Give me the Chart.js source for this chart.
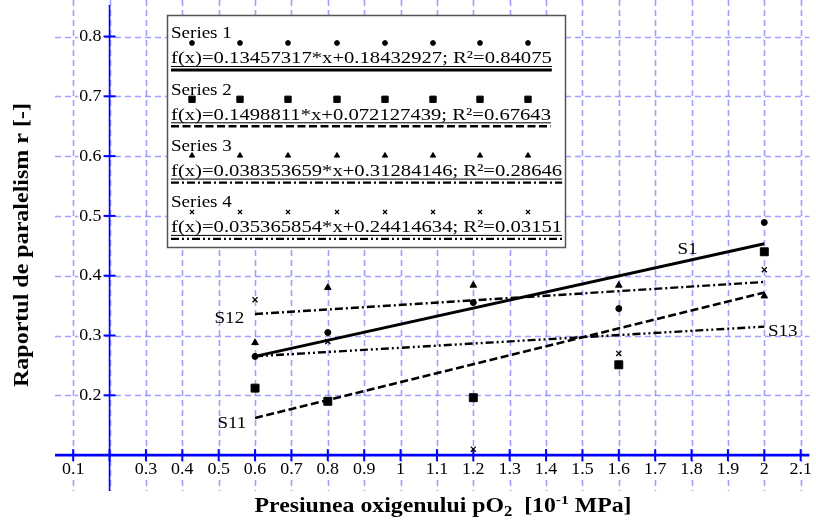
<!DOCTYPE html>
<html>
<head>
<meta charset="utf-8">
<script src="https://cdn.jsdelivr.net/npm/chart.js@4/dist/chart.umd.min.js"></script>
<style>
  html, body { margin: 0; padding: 0; background: #ffffff; }
  #wrap { width: 816px; height: 526px; }
</style>
</head>
<body>
<div id="wrap"><canvas id="c" width="816" height="526"></canvas></div>
<script>
// Measured oxygen pressures [10^-1 MPa]
const xValues = [0.6, 0.8, 1.2, 1.6, 2.0];

// Parallelism ratio r for each series
const series1 = [0.265, 0.305, 0.355, 0.345, 0.489];
const series2 = [0.212, 0.19, 0.196, 0.251, 0.44];
const series3 = [0.288, 0.38, 0.384, 0.384, 0.366];
const series4 = [0.36, 0.29, 0.11, 0.27, 0.41];

// Linear fits f(x) = a*x + b with their R²
const slopes = [0.13457317, 0.1498811, 0.038353659, 0.035365854];
const intercepts = [0.18432927, 0.072127439, 0.31284146, 0.24414634];
const rSquared = [0.84075, 0.67643, 0.28646, 0.03151];

const seriesNames = ['Series 1', 'Series 2', 'Series 3', 'Series 4'];
const fitNames = ['S1', 'S11', 'S12', 'S13'];

// Axis ticks / grid
const xGrid = [0.1, 0.2, 0.3, 0.4, 0.5, 0.6, 0.7, 0.8, 0.9, 1.0, 1.1, 1.2, 1.3, 1.4, 1.5, 1.6, 1.7, 1.8, 1.9, 2.0, 2.1];
const yGrid = [0.2, 0.3, 0.4, 0.5, 0.6, 0.7, 0.8];
const xTickLabels = ['0.1', '0.3', '0.4', '0.5', '0.6', '0.7', '0.8', '0.9', '1', '1.1', '1.2', '1.3', '1.4', '1.5', '1.6', '1.7', '1.8', '1.9', '2', '2.1'];
const xTickValues = [0.1, 0.3, 0.4, 0.5, 0.6, 0.7, 0.8, 0.9, 1.0, 1.1, 1.2, 1.3, 1.4, 1.5, 1.6, 1.7, 1.8, 1.9, 2.0, 2.1];
const yTickLabels = ['0.2', '0.3', '0.4', '0.5', '0.6', '0.7', '0.8'];
const xAxisAt = 0.1;   // y value where the horizontal axis crosses
const yAxisAt = 0.2;   // x value where the vertical axis crosses

const SERIF = '"Liberation Serif", "Times New Roman", serif';
const STRETCH = 1.12;

const markerStyles = [
  { pointStyle: 'circle', radius: 3, borderWidth: 1 },
  { pointStyle: 'rect', radius: 5.6, borderWidth: 1 },
  { pointStyle: 'triangle', radius: 3.8, borderWidth: 1 },
  { pointStyle: 'crossRot', radius: 3.6, borderWidth: 1.3 }
];
const fitStyles = [
  { borderWidth: 3, borderDash: [] },
  { borderWidth: 2.6, borderDash: [8, 3.5] },
  { borderWidth: 2.4, borderDash: [8, 3, 2, 3] },
  { borderWidth: 2.4, borderDash: [8, 3, 2, 3, 2, 3] }
];

const allSeries = [series1, series2, series3, series4];

const pointSets = allSeries.map((vals, k) => ({
  label: seriesNames[k],
  data: xValues.map((x, i) => ({ x: x, y: vals[i] })),
  showLine: false,
  pointStyle: markerStyles[k].pointStyle,
  pointRadius: markerStyles[k].radius,
  pointBorderWidth: markerStyles[k].borderWidth,
  backgroundColor: '#000',
  borderColor: '#000',
  order: 2
}));

const fitSets = slopes.map((a, k) => {
  const x0 = Math.min(...xValues), x1 = Math.max(...xValues);
  return {
    label: fitNames[k],
    data: [{ x: x0, y: a * x0 + intercepts[k] }, { x: x1, y: a * x1 + intercepts[k] }],
    showLine: true,
    pointRadius: 0,
    borderColor: '#000',
    borderWidth: fitStyles[k].borderWidth,
    borderDash: fitStyles[k].borderDash,
    borderCapStyle: 'butt',
    fill: false,
    order: 1
  };
});

function stretchedText(ctx, text, x, y, align, stretch) {
  const s = stretch || STRETCH;
  const w = ctx.measureText(text).width * s;
  let left = x;
  if (align === 'center') left = x - w / 2;
  else if (align === 'right') left = x - w;
  ctx.save();
  ctx.translate(left, y);
  ctx.scale(s, 1);
  ctx.textAlign = 'left';
  ctx.fillText(text, 0, 0);
  ctx.restore();
  return w;
}

const decorPlugin = {
  id: 'decor',
  beforeDatasetsDraw(chart) {
    const ctx = chart.ctx;
    const xs = chart.scales.x, ys = chart.scales.y;
    const area = chart.chartArea;
    const axisY = ys.getPixelForValue(xAxisAt);
    const axisX = xs.getPixelForValue(yAxisAt);

    ctx.save();
    // dashed grid
    ctx.strokeStyle = 'rgba(120,120,255,0.7)';
    ctx.lineWidth = 1.6;
    ctx.setLineDash([6, 4]);
    xGrid.forEach(v => {
      const px = Math.round(xs.getPixelForValue(v)) + 0.5;
      ctx.beginPath(); ctx.moveTo(px, 0); ctx.lineTo(px, area.bottom); ctx.stroke();
    });
    yGrid.forEach(v => {
      const py = Math.round(ys.getPixelForValue(v)) + 0.5;
      ctx.beginPath(); ctx.moveTo(area.left, py); ctx.lineTo(area.right, py); ctx.stroke();
    });
    ctx.setLineDash([]);

    // axes
    ctx.strokeStyle = '#0000ff';
    ctx.lineWidth = 2.6;
    ctx.beginPath(); ctx.moveTo(area.left, axisY); ctx.lineTo(area.right, axisY); ctx.stroke();
    ctx.lineWidth = 1.6;
    ctx.beginPath(); ctx.moveTo(axisX, 5); ctx.lineTo(axisX, area.bottom); ctx.stroke();

    // tick marks
    ctx.lineWidth = 2;
    xGrid.forEach(v => {
      const px = xs.getPixelForValue(v);
      ctx.beginPath(); ctx.moveTo(px, axisY - 6); ctx.lineTo(px, axisY + 6); ctx.stroke();
    });
    yGrid.forEach(v => {
      const py = ys.getPixelForValue(v);
      ctx.beginPath(); ctx.moveTo(axisX - 6, py); ctx.lineTo(axisX + 6, py); ctx.stroke();
    });

    // tick labels on white patches
    ctx.font = '16px ' + SERIF;
    ctx.textBaseline = 'middle';
    xTickLabels.forEach((t, i) => {
      const px = xs.getPixelForValue(xTickValues[i]);
      const w = ctx.measureText(t).width * STRETCH;
      ctx.fillStyle = '#fff';
      ctx.fillRect(px - w / 2 - 1, axisY + 7, w + 2, 15);
      ctx.fillStyle = '#000';
      stretchedText(ctx, t, px, axisY + 14.5, 'center');
    });
    yTickLabels.forEach((t, i) => {
      const py = ys.getPixelForValue(yGrid[i]);
      const w = ctx.measureText(t).width * STRETCH;
      ctx.fillStyle = '#fff';
      ctx.fillRect(axisX - 8 - w - 1, py - 7, w + 2, 14);
      ctx.fillStyle = '#000';
      stretchedText(ctx, t, axisX - 8, py + 0.5, 'right');
    });
    ctx.restore();
  },
  afterDatasetsDraw(chart) {
    const ctx = chart.ctx;
    const xs = chart.scales.x, ys = chart.scales.y;
    ctx.save();

    // fit labels
    ctx.font = '17px ' + SERIF;
    ctx.fillStyle = '#000';
    ctx.textBaseline = 'middle';
    const fitLabelPos = [
      { x: 1.789, y: 0.444, align: 'center' },
      { x: 0.576, y: 0.153, align: 'right' },
      { x: 0.57, y: 0.328, align: 'right' },
      { x: 2.01, y: 0.307, align: 'left' }
    ];
    fitNames.forEach((n, k) => {
      const p = fitLabelPos[k];
      stretchedText(ctx, n, xs.getPixelForValue(p.x), ys.getPixelForValue(p.y), p.align);
    });

    // legend box
    const bx = 167, by = 15, bw = 398, bh = 232;
    ctx.fillStyle = '#fff';
    ctx.fillRect(bx, by, bw, bh);
    ctx.strokeStyle = '#555';
    ctx.lineWidth = 1.5;
    ctx.strokeRect(bx + 0.5, by + 0.5, bw, bh);

    const rowH = 56.3;
    const markerXs = [192, 240, 288, 337, 385, 433, 480, 528];
    seriesNames.forEach((name, k) => {
      const top = 34 + k * rowH;
      ctx.fillStyle = '#000';
      ctx.font = '17px ' + SERIF;
      ctx.textBaseline = 'middle';
      stretchedText(ctx, name, 171, top, 'left');

      const ds = pointSets[k];
      markerXs.forEach(mx => {
        ctx.fillStyle = '#000';
        ctx.strokeStyle = '#000';
        ctx.lineWidth = ds.pointBorderWidth;
        Chart.helpers.drawPoint(ctx, { pointStyle: ds.pointStyle, radius: ds.pointRadius * 0.8, borderWidth: ds.pointBorderWidth, rotation: 0 }, mx, top + 9);
      });

      const formula = 'f(x)=' + slopes[k] + '*x+' + intercepts[k] + '; R²=' + rSquared[k];
      ctx.fillStyle = '#000';
      const fw = stretchedText(ctx, formula, 171, top + 25, 'left', 1.215);
      // thin text underline
      ctx.lineWidth = 1;
      ctx.strokeStyle = '#000';
      ctx.setLineDash([]);
      ctx.beginPath(); ctx.moveTo(171, top + 32.5); ctx.lineTo(171 + fw, top + 32.5); ctx.stroke();
      // line sample
      const fs = fitSets[k];
      ctx.lineWidth = fs.borderWidth;
      ctx.setLineDash(fs.borderDash);
      ctx.beginPath(); ctx.moveTo(171, top + 36); ctx.lineTo(171 + fw, top + 36); ctx.stroke();
      ctx.setLineDash([]);
    });

    // axis titles
    ctx.fillStyle = '#000';
    ctx.textBaseline = 'alphabetic';
    ctx.save();
    ctx.translate(28, 245);
    ctx.rotate(-Math.PI / 2);
    ctx.font = 'bold 21px ' + SERIF;
    const yt = 'Raportul de paralelism r [-]';
    const ytw = ctx.measureText(yt).width;
    ctx.scale(284 / ytw, 1);
    ctx.textAlign = 'center';
    ctx.fillText(yt, 0, 0);
    ctx.restore();

    const parts = [
      { t: 'Presiunea oxigenului pO', f: 'bold 20px ' + SERIF, dy: 0 },
      { t: '2', f: 'bold 14px ' + SERIF, dy: 4 },
      { t: '  [10', f: 'bold 20px ' + SERIF, dy: 0 },
      { t: '-1', f: 'bold 13px ' + SERIF, dy: -8 },
      { t: ' MPa]', f: 'bold 20px ' + SERIF, dy: 0 }
    ];
    let total = 0;
    parts.forEach(p => { ctx.font = p.f; total += ctx.measureText(p.t).width; });
    const xsx = 377 / total;
    ctx.save();
    ctx.translate(443 - 377 / 2, 512);
    ctx.scale(xsx, 1);
    let cx = 0;
    ctx.textAlign = 'left';
    parts.forEach(p => {
      ctx.font = p.f;
      ctx.fillText(p.t, cx, p.dy);
      cx += ctx.measureText(p.t).width;
    });
    ctx.restore();
    ctx.restore();
  }
};

new Chart(document.getElementById('c'), {
  type: 'scatter',
  data: { datasets: [...fitSets, ...pointSets] },
  options: {
    responsive: false,
    animation: false,
    devicePixelRatio: 1,
    layout: { padding: { left: 55, right: 0, top: 2, bottom: 35 } },
    scales: {
      x: { type: 'linear', min: 0.05, max: 2.124, display: false },
      y: { type: 'linear', min: 0.04, max: 0.85, display: false }
    },
    plugins: { legend: { display: false }, tooltip: { enabled: false } }
  },
  plugins: [decorPlugin]
});
</script>
</body>
</html>
